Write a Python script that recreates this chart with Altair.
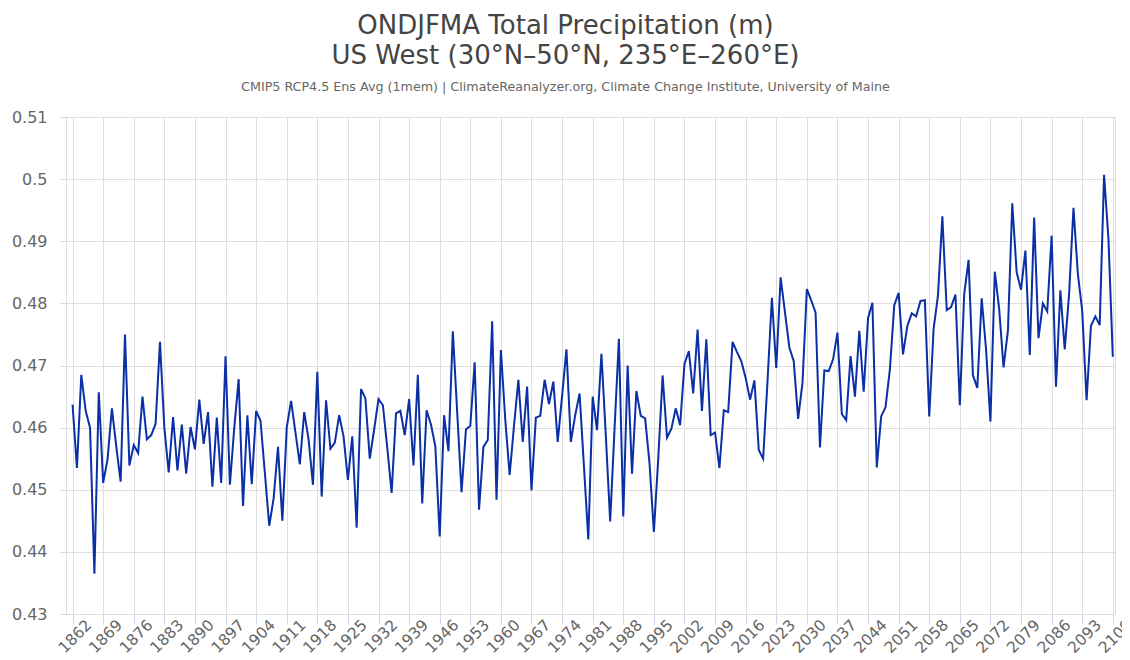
import altair as alt
import pandas as pd

years = list(range(1862, 2101))

precip = [
    0.4637, 0.4535, 0.4685, 0.4627, 0.4600, 0.4365, 0.4657, 0.4511, 0.4549, 0.4631,  # 1862-1871
    0.4570, 0.4513, 0.4750, 0.4539, 0.4572, 0.4559, 0.4650, 0.4581, 0.4588, 0.4606,  # 1872-1881
    0.4738, 0.4600, 0.4528, 0.4617, 0.4531, 0.4605, 0.4526, 0.4601, 0.4565, 0.4645,  # 1882-1891
    0.4574, 0.4625, 0.4505, 0.4616, 0.4511, 0.4715, 0.4508, 0.4600, 0.4678, 0.4474,  # 1892-1901
    0.4620, 0.4509, 0.4627, 0.4611, 0.4527, 0.4442, 0.4486, 0.4569, 0.4450, 0.4600,  # 1902-1911
    0.4643, 0.4592, 0.4541, 0.4625, 0.4581, 0.4508, 0.4690, 0.4489, 0.4644, 0.4566,  # 1912-1921
    0.4576, 0.4620, 0.4586, 0.4516, 0.4586, 0.4439, 0.4662, 0.4647, 0.4550, 0.4597,  # 1922-1931
    0.4646, 0.4636, 0.4568, 0.4495, 0.4623, 0.4627, 0.4588, 0.4646, 0.4539, 0.4685,  # 1932-1941
    0.4478, 0.4628, 0.4605, 0.4570, 0.4425, 0.4620, 0.4562, 0.4755, 0.4625, 0.4496,  # 1942-1951
    0.4597, 0.4603, 0.4705, 0.4468, 0.4569, 0.4580, 0.4771, 0.4484, 0.4725, 0.4613,  # 1952-1961
    0.4524, 0.4603, 0.4677, 0.4577, 0.4666, 0.4499, 0.4616, 0.4619, 0.4677, 0.4638,  # 1962-1971
    0.4674, 0.4577, 0.4651, 0.4726, 0.4577, 0.4620, 0.4655, 0.4538, 0.4420, 0.4650,  # 1972-1981
    0.4596, 0.4719, 0.4588, 0.4449, 0.4598, 0.4743, 0.4457, 0.4700, 0.4526, 0.4659,  # 1982-1991
    0.4619, 0.4615, 0.4543, 0.4432, 0.4550, 0.4684, 0.4584, 0.4598, 0.4631, 0.4604,  # 1992-2001
    0.4703, 0.4723, 0.4655, 0.4758, 0.4627, 0.4742, 0.4588, 0.4592, 0.4535, 0.4628,  # 2002-2011
    0.4625, 0.4738, 0.4722, 0.4707, 0.4680, 0.4645, 0.4676, 0.4564, 0.4550, 0.4675,  # 2012-2021
    0.4809, 0.4696, 0.4842, 0.4785, 0.4729, 0.4707, 0.4614, 0.4672, 0.4823, 0.4805,  # 2022-2031
    0.4785, 0.4568, 0.4692, 0.4691, 0.4710, 0.4753, 0.4622, 0.4612, 0.4715, 0.4650,  # 2032-2041
    0.4756, 0.4658, 0.4776, 0.4801, 0.4536, 0.4618, 0.4633, 0.4694, 0.4797, 0.4817,  # 2042-2051
    0.4718, 0.4764, 0.4784, 0.4779, 0.4804, 0.4805, 0.4618, 0.4759, 0.4813, 0.4940,  # 2052-2061
    0.4789, 0.4794, 0.4814, 0.4636, 0.4815, 0.4870, 0.4684, 0.4664, 0.4808, 0.4726,  # 2062-2071
    0.4610, 0.4851, 0.4791, 0.4697, 0.4756, 0.4961, 0.4850, 0.4822, 0.4885, 0.4717,  # 2072-2081
    0.4938, 0.4744, 0.4800, 0.4787, 0.4909, 0.4666, 0.4821, 0.4726, 0.4815, 0.4954,  # 2082-2091
    0.4848, 0.4788, 0.4644, 0.4764, 0.4779, 0.4765, 0.5007, 0.4904, 0.4714,          # 2092-2100
]

x_ticks = list(range(1862, 2101, 7))
y_ticks = [0.43, 0.44, 0.45, 0.46, 0.47, 0.48, 0.49, 0.50, 0.51]

title_lines = ["ONDJFMA Total Precipitation (m)", "US West (30°N–50°N, 235°E–260°E)"]
subtitle_text = "CMIP5 RCP4.5 Ens Avg (1mem) | ClimateReanalyzer.org, Climate Change Institute, University of Maine"

df = pd.DataFrame({"year": years, "value": precip})

FONT = "DejaVu Sans"

chart = (
    alt.Chart(df)
    .mark_line(color="#0b2fa6", strokeWidth=2, clip=True)
    .encode(
        x=alt.X(
            "year:Q",
            scale=alt.Scale(domain=[1860.5, 2100.5], nice=False, zero=False),
            axis=alt.Axis(
                values=x_ticks,
                format="d",
                title=None,
                grid=True,
                gridColor="#dedede",
                domain=False,
                ticks=True,
                tickColor="#ccd6eb",
                tickSize=10,
                labelAngle=-45,
                labelAlign="right",
                labelBaseline="middle",
                labelOffset=16,
                labelPadding=-2,
                labelFont=FONT,
                labelFontSize=15.5,
                labelColor="#666666",
                labelOverlap=False,
                labelFlush=False,
            ),
        ),
        y=alt.Y(
            "value:Q",
            scale=alt.Scale(domain=[0.43, 0.51], nice=False, zero=False),
            axis=alt.Axis(
                values=y_ticks,
                format=".2~f",
                title=None,
                grid=True,
                gridColor="#dedede",
                domain=False,
                ticks=True,
                tickColor="#ccd6eb",
                tickSize=6,
                labelPadding=13,
                labelFont=FONT,
                labelFontSize=16,
                labelColor="#666666",
                labelFlush=False,
                labelOverlap=False,
            ),
        ),
    )
    .properties(
        width=1049,
        height=497,
        title=alt.TitleParams(
            text=title_lines,
            subtitle=subtitle_text,
            anchor="middle",
            dx=-25,
            font=FONT,
            fontSize=26,
            fontWeight="normal",
            color="#444444",
            lineHeight=30,
            subtitleFont=FONT,
            subtitleFontSize=12.7,
            subtitleColor="#666666",
            subtitlePadding=12,
            offset=15,
        ),
        autosize=alt.AutoSizeParams(type="none"),
        padding={"left": 58, "top": 109, "right": 7, "bottom": 44},
    )
    .configure_view(stroke="#4d4d4d", strokeWidth=1)
    .configure(background="white")
)

chart.save("out.html", embed_options={"renderer": "svg", "actions": False})
